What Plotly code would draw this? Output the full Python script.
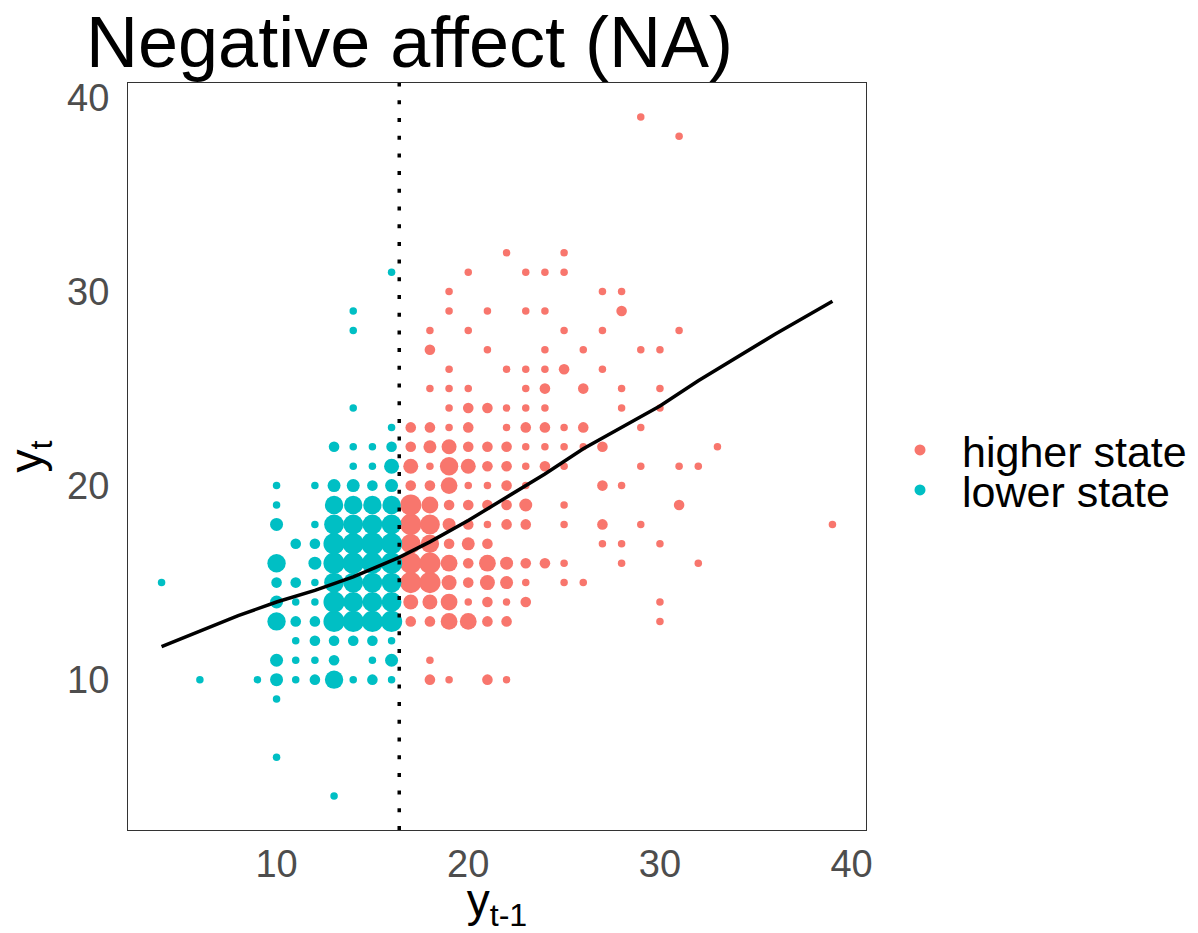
import numpy as np
import plotly.graph_objects as go

# ---- data (x = y_{t-1}, y = y_t, n = number of observations at that cell) ----
lower_x = [4, 6, 9,
           10, 10, 10, 10, 10, 10, 10, 10, 10, 10, 10,
           11, 11, 11, 11, 11, 11, 11,
           12, 12, 12, 12, 12, 12, 12, 12, 12, 12,
           13, 13, 13, 13, 13, 13, 13, 13, 13, 13, 13, 13, 13,
           14, 14, 14, 14, 14, 14, 14, 14, 14, 14, 14, 14, 14, 14, 14,
           15, 15, 15, 15, 15, 15, 15, 15, 15, 15, 15, 15, 15,
           16, 16, 16, 16, 16, 16, 16, 16, 16, 16, 16, 16, 16, 16, 16]
lower_y = [15, 10, 10,
           6, 9, 10, 11, 13, 14, 15, 16, 18, 19, 20,
           10, 11, 12, 13, 14, 15, 17,
           10, 11, 12, 13, 14, 15, 16, 17, 18, 20,
           4, 10, 11, 12, 13, 14, 15, 16, 17, 18, 19, 20, 22,
           10, 12, 13, 14, 15, 16, 17, 18, 19, 20, 21, 22, 24, 28, 29,
           10, 11, 12, 13, 14, 15, 16, 17, 18, 19, 20, 21, 22,
           10, 11, 12, 13, 14, 15, 16, 17, 18, 19, 20, 21, 22, 23, 31]
lower_n = [1, 1, 1,
           1, 1, 3, 3, 6, 3, 2, 6, 3, 1, 1,
           1, 1, 1, 2, 1, 2, 2,
           2, 1, 2, 2, 1, 1, 3, 2, 1, 1,
           1, 6, 2, 2, 8, 8, 7, 8, 8, 7, 6, 3, 2,
           1, 2, 8, 7, 7, 8, 8, 7, 6, 3, 1, 1, 1, 1, 1,
           2, 1, 2, 8, 7, 7, 8, 9, 7, 6, 2, 1, 1,
           1, 3, 1, 8, 7, 7, 8, 8, 7, 6, 3, 4, 2, 1, 1]

higher_x = [17]*11 + [18]*16 + [19]*17 + [20]*15 + [21]*14 + [22]*14 + [23]*14 + [24]*10 + \
           [25]*11 + [26]*5 + [27]*7 + [28]*7 + [29]*5 + [30]*6 + [31]*4 + [32]*2 + [33] + [39]
higher_y = [13, 14, 15, 16, 17, 18, 19, 20, 21, 22, 23,
            10, 11, 13, 14, 15, 16, 17, 18, 19, 20, 21, 22, 23, 25, 27, 28,
            10, 13, 14, 15, 16, 17, 18, 19, 20, 21, 22, 23, 24, 25, 26, 29, 30,
            13, 14, 15, 16, 17, 18, 19, 20, 21, 22, 23, 24, 25, 28, 31,
            10, 13, 14, 15, 16, 17, 18, 19, 20, 21, 22, 24, 27, 29,
            10, 13, 14, 15, 16, 18, 19, 20, 21, 22, 23, 24, 26, 32,
            14, 15, 16, 18, 19, 20, 21, 22, 23, 24, 25, 26, 29, 31,
            16, 21, 22, 23, 24, 25, 26, 27, 29, 31,
            15, 16, 18, 19, 21, 22, 23, 26, 28, 31, 32,
            15, 22, 23, 25, 27,
            17, 18, 20, 22, 26, 28, 30,
            16, 17, 20, 24, 25, 29, 30,
            18, 21, 23, 27, 39,
            13, 14, 17, 24, 25, 27,
            19, 21, 28, 38,
            16, 21,
            22,
            18]
higher_n = [2, 4, 8, 8, 7, 8, 8, 2, 4, 2, 2,
            2, 1, 2, 4, 8, 8, 6, 7, 5, 2, 1, 3, 2, 1, 2, 1,
            1, 5, 5, 4, 5, 2, 3, 2, 5, 6, 4, 1, 1, 1, 1, 1, 1,
            5, 1, 2, 2, 3, 2, 2, 1, 4, 2, 2, 2, 1, 1, 1,
            2, 2, 2, 4, 5, 2, 1, 2, 1, 2, 2, 2, 1, 1,
            1, 2, 1, 3, 3, 2, 2, 2, 2, 2, 1, 1, 1, 1,
            2, 1, 2, 2, 3, 1, 1, 1, 2, 1, 1, 1, 1, 1,
            2, 2, 1, 2, 1, 2, 1, 1, 1, 1,
            1, 1, 1, 1, 1, 1, 1, 2, 1, 1, 1,
            1, 1, 2, 2, 1,
            1, 2, 2, 2, 1, 1, 1,
            1, 1, 1, 1, 1, 2, 1,
            1, 1, 1, 1, 1,
            1, 1, 1, 1, 1, 1,
            2, 1, 1, 1,
            1, 1,
            1,
            1]

# fitted (threshold) curve
smooth_x = [4, 6, 8, 10, 12, 14, 16, 16.4, 18, 20, 22, 24, 26, 28, 30, 32, 34, 36, 39]
smooth_y = [11.7, 12.5, 13.3, 14.0, 14.6, 15.3, 16.1, 16.3, 17.1, 18.2, 19.4, 20.6, 21.9, 23.0, 24.1, 25.4, 26.6, 27.8, 29.5]

threshold = 16.4
x_ticks = [10, 20, 30, 40]
y_ticks = [10, 20, 30, 40]

RED = "#F8766D"
CYAN = "#00BFC4"
FONT = "Liberation Sans, Arial, sans-serif"


def sizes(n):
    return [min(7.5 * np.sqrt(v), 22.5) for v in n]


fig = go.Figure()
fig.add_trace(go.Scatter(x=higher_x, y=higher_y, mode="markers",
                         marker=dict(color=RED, size=sizes(higher_n), opacity=1, line=dict(width=0)),
                         showlegend=False, hoverinfo="x+y"))
fig.add_trace(go.Scatter(x=lower_x, y=lower_y, mode="markers",
                         marker=dict(color=CYAN, size=sizes(lower_n), opacity=1, line=dict(width=0)),
                         showlegend=False, hoverinfo="x+y"))
fig.add_trace(go.Scatter(x=smooth_x, y=smooth_y, mode="lines",
                         line=dict(color="black", width=3.5), showlegend=False))
fig.add_trace(go.Scatter(x=[threshold, threshold], y=[2.25, 40.75], mode="lines",
                         line=dict(color="black", width=3.5, dash="4px,13.7px"),
                         showlegend=False))
# legend entries
fig.add_trace(go.Scatter(x=[None], y=[None], mode="markers", name="higher state",
                         marker=dict(color=RED, size=11, opacity=1), legend="legend"))
fig.add_trace(go.Scatter(x=[None], y=[None], mode="markers", name="lower state",
                         marker=dict(color=CYAN, size=11, opacity=1), legend="legend2"))

L, R, T, B = 128, 866, 83, 830
W, H = 1198, 933

legend_common = dict(font=dict(family=FONT, size=43, color="black"), bgcolor="rgba(0,0,0,0)",
                     itemwidth=74, xanchor="left", yanchor="middle", borderwidth=0,
                     xref="paper", yref="paper")

fig.update_layout(
    width=W, height=H,
    margin=dict(l=L, r=W - R, t=T, b=H - B, autoexpand=False),
    paper_bgcolor="white", plot_bgcolor="white",
    title=dict(text="Negative affect (NA)", font=dict(family=FONT, size=72, color="black"),
               xref="container", x=86 / W, xanchor="left",
               yref="container", y=1 - 42 / H, yanchor="middle"),
    xaxis=dict(range=[2.25, 40.75], tickvals=x_ticks, showgrid=False, zeroline=False,
               showline=True, mirror=True, linecolor="#333333", linewidth=1.2,
               ticks="", ticklabelstandoff=0,
               tickfont=dict(family=FONT, size=38, color="#4D4D4D"),
               title=dict(text="y<sub>t-1</sub>", font=dict(family=FONT, size=46, color="black"),
                          standoff=8)),
    yaxis=dict(range=[2.25, 40.75], tickvals=y_ticks, showgrid=False, zeroline=False,
               showline=True, mirror=True, linecolor="#333333", linewidth=1.2,
               ticks="", ticklabelstandoff=10,
               tickfont=dict(family=FONT, size=38, color="#4D4D4D"),
               title=dict(text="y<sub>t</sub>", font=dict(family=FONT, size=46, color="black"),
                          standoff=10)),
    legend=dict(x=(878 - L) / (R - L), y=(B - 450) / (B - T), **legend_common),
    legend2=dict(x=(878 - L) / (R - L), y=(B - 490) / (B - T), **legend_common),
)

fig.write_html("out.html")
